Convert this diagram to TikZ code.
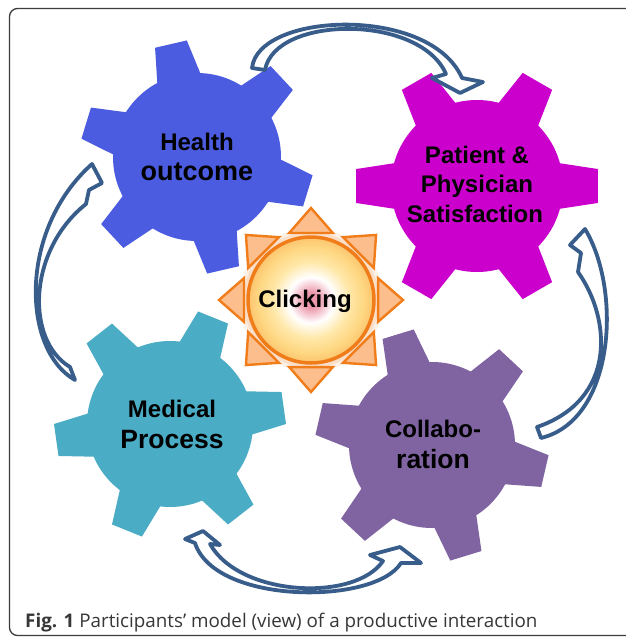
\documentclass[tikz,border=0pt]{standalone}
\usepackage{fontspec}
\setmainfont{Liberation Sans}
\newfontfamily\capfont{Open Sans}
\usetikzlibrary{calc}
\definecolor{gblue}{RGB}{75,92,225}
\definecolor{gmag}{RGB}{204,0,204}
\definecolor{gteal}{RGB}{75,172,198}
\definecolor{gpurp}{RGB}{128,100,162}
\definecolor{arrc}{RGB}{56,93,138}
\definecolor{sunor}{RGB}{240,125,25}
\definecolor{suntri}{RGB}{252,190,140}
\definecolor{sunpink}{RGB}{235,150,170}
\definecolor{sunyellow}{RGB}{255,232,170}
\definecolor{sunmid}{RGB}{254,215,130}
\definecolor{sunedge}{RGB}{252,196,110}
\definecolor{framec}{RGB}{60,60,60}
\definecolor{capc}{RGB}{55,55,55}
\pgfdeclareradialshading{sunshade}{\pgfpoint{0bp}{0bp}}{color(0bp)=(sunpink); color(3bp)=(sunpink); color(9bp)=(white); color(15bp)=(sunyellow); color(21bp)=(sunmid); color(25bp)=(sunedge); color(50bp)=(sunedge)}
\newcommand{\gfont}[1]{\fontsize{#1}{#1}\selectfont\bfseries}
\newcommand{\mygear}[6]{%
  \fill[#6] (#1,#2) circle[radius=#3];
  \foreach \a in {0,60,...,300}{%
    \pgfmathsetmacro\gang{-(#5+\a)}%
    \fill[#6] ($(#1,#2)+(\gang-18:#3-8)$) -- ($(#1,#2)+(\gang-8:#4)$) -- ($(#1,#2)+(\gang+8:#4)$) -- ($(#1,#2)+(\gang+18:#3-8)$) -- cycle;
  }%
}
\tikzset{
  gtxt/.style={anchor=base, inner sep=0pt, text=black},
  ribbon/.style={draw=arrc, fill=white, line width=3.8pt, line join=round},
  suntriangle/.style={fill=suntri, draw=sunor, line width=2.4pt, line join=miter},
}
\begin{document}
\begin{tikzpicture}[x=1pt,y=-1pt]
\useasboundingbox (0,0) rectangle (625,637);
\fill[white] (0,0) rectangle (625,637);
% frame
\draw[framec, line width=1.3pt, rounded corners=8pt] (630,8.5) -- (9.5,8.5) -- (9.5,635.5) -- (630,635.5);
% gears
\mygear{197}{157}{84}{117}{43}{gblue}
\mygear{477}{186}{86}{122}{0}{gmag}
\mygear{170}{424}{83}{116}{8}{gteal}
\mygear{432}{445}{83}{117}{47}{gpurp}
% sun
\coordinate (sc) at (311,300);
\fill[sunor, opacity=0.10] (sc) circle[radius=72];
\foreach \a in {0,45,...,315}{%
  \draw[suntriangle] ($(sc)+(-\a-18:70.5)$) -- ($(sc)+(-\a:92)$) -- ($(sc)+(-\a+18:70.5)$) -- cycle;
}
\fill[sunor, opacity=0.15] (sc) circle[radius=68];
\shade[shading=sunshade] (sc) circle[radius=63];
\draw[sunor, line width=3.5pt] (sc) circle[radius=63];
% arrows
% top
\draw[ribbon] (252,68) .. controls (258,12) and (430,5) .. (462,78)
  -- (483,82) -- (460,93) -- (432,78) -- (446,74)
  .. controls (420,14) and (275,15) .. (265,70) -- cycle;
% right
\draw[ribbon] (541,438) .. controls (615,420) and (622,290) .. (585,229)
  -- (570,245) -- (581,253) -- (578,272)
  .. controls (612,320) and (616,400) .. (537,427) -- cycle;
% bottom
\draw[ribbon] (195,543) -- (185,539) -- (203,531) -- (220,545) -- (210,544)
  .. controls (240,597) and (355,602) .. (383,561)
  -- (370,555) -- (400,547) -- (421,563) -- (401,563)
  .. controls (375,605) and (215,605) .. (195,543) -- cycle;
% left
\draw[ribbon] (75,380) .. controls (22,350) and (18,230) .. (92,164)
  -- (102,183) -- (89,190) -- (86,204)
  .. controls (28,250) and (25,340) .. (70,367) -- cycle;
% texts
\node[gtxt, font=\gfont{24}] (h1) at (197,150) {Health};
\node[gtxt, font=\gfont{27}] (h2) at (197,180) {outcome};
\node[gtxt, font=\gfont{24}] (p1) at (477,163) {Patient \&};
\node[gtxt, font=\gfont{24}] (p2) at (477,192) {Physician};
\node[gtxt, font=\gfont{24}] (p3) at (475,222) {Satisfaction};
\node[gtxt, font=\gfont{24}] (m1) at (172,417) {Medical};
\node[gtxt, font=\gfont{26.5}] (m2) at (172,448) {Process};
\node[gtxt, font=\gfont{24}] (c1) at (433,437) {Collabo-};
\node[gtxt, font=\gfont{26.5}] (c2) at (433,468) {ration};
\node[gtxt, font=\gfont{24}] (ck) at (305,307) {Clicking};
% caption
\node[anchor=base west, inner sep=0pt, text=capc, font=\capfont\fontsize{18.8}{18.8}\selectfont] (cap) at (25,627) {\textbf{Fig. 1} Participants’ model (view) of a productive interaction};
\end{tikzpicture}
\end{document}
